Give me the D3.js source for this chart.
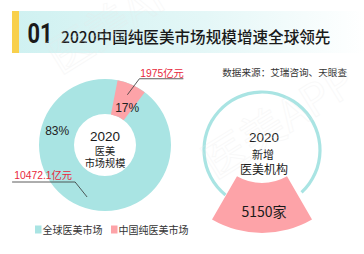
<!DOCTYPE html>
<html><head><meta charset="utf-8">
<script src="https://cdn.jsdelivr.net/npm/d3@7"></script>
<style>
html,body{margin:0;padding:0;background:#fff;}
svg{display:block;font-family:"Noto Sans CJK SC","Noto Sans",sans-serif;}
</style></head>
<body>
<script>
// ---- data ----
const titleNo = "01";
const titleText = "2020中国纯医美市场规模增速全球领先";
const sourceText = "数据来源：艾瑞咨询、天眼查";
const categories = ["全球医美市场", "中国纯医美市场"];
const shares = [83, 17];
const amounts = ["10472.1亿元", "1975亿元"];
const donutCenterLabel = ["2020", "医美", "市场规模"];
const circleLabel = ["2020", "新增", "医美机构"];
const newInstitutions = 5150;
const newInstitutionsUnit = "家";
const watermark = "医美APP";

const colors = ["#a9e4e3", "#fda3a8"];
const W = 364, H = 254;
const svg = d3.select("body").append("svg").attr("width", W).attr("height", H);
const defs = svg.append("defs");
const grad = defs.append("linearGradient").attr("id", "tg").attr("x1", "0").attr("x2", "1");
grad.append("stop").attr("offset", "0").attr("stop-color", "#cff1f1");
grad.append("stop").attr("offset", "0.55").attr("stop-color", "#e4f7f7");
grad.append("stop").attr("offset", "1").attr("stop-color", "#ffffff");

// title bar
svg.append("rect").attr("x", 12).attr("y", 11).attr("width", 352).attr("height", 42).attr("fill", "url(#tg)");
svg.append("rect").attr("x", 12).attr("y", 11).attr("width", 7).attr("height", 42).attr("fill", "#f8d04c");
svg.append("text").attr("transform", "translate(27.5,43) scale(0.78,1)").text(titleNo)
  .attr("font-family", "Roboto,'DejaVu Sans',sans-serif")
  .attr("font-weight", "bold").attr("font-size", 28).attr("fill", "#1a1a1a");
svg.append("text").attr("x", 61).attr("y", 42.5).text(titleText)
  .attr("font-size", 15.6).attr("font-weight", 500).attr("fill", "#1a1a1a");

// source
svg.append("text").attr("x", 347).attr("y", 76).attr("text-anchor", "end").text(sourceText)
  .attr("font-size", 9.6).attr("fill", "#333");

// ---- donut ----
const cx = 105, cy = 145, R = 66, r0 = 31;
const deg = Math.PI / 180;
const g = svg.append("g").attr("transform", `translate(${cx},${cy})`);
// angle scale for the highlighted wedge
const wedgeStart = 11 * deg;
const wedgeAngle = d3.scaleLinear().domain([0, 100]).range([0, 153 * deg]);
const arc = d3.arc().innerRadius(r0).outerRadius(R);
// whole market ring
g.append("path").attr("d", arc({startAngle: 0, endAngle: 2 * Math.PI})).attr("fill", colors[0]);
// China wedge
const pinkEnd = wedgeStart + wedgeAngle(shares[1]);
g.append("path").attr("d", arc({startAngle: wedgeStart, endAngle: pinkEnd})).attr("fill", colors[1]);

function pt(a, rad) { return [Math.sin(a) * rad, -Math.cos(a) * rad]; }
const lineColor = "#333";
// pink leader
const pinkMid = (wedgeStart + pinkEnd) / 2;
const p0 = pt(pinkMid, 55);
const p1 = [p0[0] + 12, p0[1] - 16];
const p2 = [p1[0] + 44, p1[1]];
g.append("path").attr("d", d3.line()([p0, p1, p2])).attr("fill", "none").attr("stroke", lineColor).attr("stroke-width", 0.8);
g.append("text").attr("x", p1[0] + 1).attr("y", p1[1] - 2).text(amounts[1])
  .attr("font-size", 10.3).attr("fill", "#e8283c").attr("font-family", "'Liberation Sans','Noto Sans CJK SC',sans-serif");
// teal leader
const q0 = pt(199 * deg, 55);
const q1 = [q0[0] - 12, q0[1] - 15];
const q2 = [q1[0] - 63, q1[1]];
g.append("path").attr("d", d3.line()([q0, q1, q2])).attr("fill", "none").attr("stroke", lineColor).attr("stroke-width", 0.8);
g.append("text").attr("x", q1[0] - 3).attr("y", q1[1] - 3).attr("text-anchor", "end").text(amounts[0])
  .attr("font-size", 10.3).attr("fill", "#e8283c").attr("font-family", "'Liberation Sans','Noto Sans CJK SC',sans-serif");
// percent labels
const l17 = pt(pinkMid + 4 * deg, 43);
g.append("text").attr("x", l17[0] + 2).attr("y", l17[1] + 5).attr("text-anchor", "middle").text(shares[1] + "%")
  .attr("font-size", 12).attr("fill", "#222").attr("font-family", "'Liberation Sans',sans-serif");
const l83 = pt(287 * deg, 50);
g.append("text").attr("x", l83[0]).attr("y", l83[1] + 5).attr("text-anchor", "middle").text(shares[0] + "%")
  .attr("font-size", 12).attr("fill", "#222").attr("font-family", "'Liberation Sans',sans-serif");
// center
g.append("text").attr("y", -4).attr("text-anchor", "middle").text(donutCenterLabel[0])
  .attr("font-size", 13.5).attr("fill", "#1a1a1a").attr("font-family", "'Liberation Sans',sans-serif");
g.append("text").attr("y", 9.5).attr("text-anchor", "middle").text(donutCenterLabel[1])
  .attr("font-size", 10.2).attr("fill", "#1a1a1a");
g.append("text").attr("y", 22).attr("text-anchor", "middle").text(donutCenterLabel[2])
  .attr("font-size", 10.2).attr("fill", "#1a1a1a");

// legend
const lg = svg.append("g");
const legX = [35, 111];
categories.forEach((c, i) => {
  lg.append("rect").attr("x", legX[i]).attr("y", 225.5).attr("width", 6.5).attr("height", 8).attr("fill", colors[i]);
  lg.append("text").attr("x", legX[i] + 7.5).attr("y", 233.5).text(c).attr("font-size", 10).attr("fill", "#333");
});

// ---- right circle ----
const ccx = 262, ccy = 150, CR = 58;
const cg = svg.append("g").attr("transform", `translate(${ccx},${ccy})`);
cg.append("path").attr("d", d3.arc().innerRadius(CR - 1.6).outerRadius(CR + 1.6)({startAngle: 219 * deg, endAngle: (137 + 360) * deg}))
  .attr("fill", colors[0]);
const sg = svg.append("g").attr("transform", `translate(${ccx},133)`);
sg.append("path").attr("d", d3.arc().innerRadius(50).outerRadius(100)({startAngle: 150 * deg, endAngle: 210 * deg}))
  .attr("fill", colors[1]);
sg.append("text").attr("x", 2).attr("y", 84).attr("text-anchor", "middle")
  .text(d3.format("d")(newInstitutions) + newInstitutionsUnit).attr("font-size", 14).attr("fill", "#1a1a1a");
cg.append("text").attr("x", 2).attr("y", -8).attr("text-anchor", "middle").text(circleLabel[0])
  .attr("font-size", 13.5).attr("fill", "#1a1a1a").attr("font-family", "'Liberation Sans',sans-serif");
cg.append("text").attr("x", 1).attr("y", 9).attr("text-anchor", "middle").text(circleLabel[1])
  .attr("font-size", 11).attr("fill", "#1a1a1a");
cg.append("text").attr("x", 2).attr("y", 23.5).attr("text-anchor", "middle").text(circleLabel[2])
  .attr("font-size", 12).attr("fill", "#1a1a1a");

// faint watermark
const wm = svg.append("g").attr("pointer-events", "none");
[[60, 75], [215, 180]].forEach(([x, y]) => {
  wm.append("text").attr("transform", `translate(${x},${y}) rotate(-32)`).text(watermark)
    .attr("font-size", 44).attr("fill", "none").attr("stroke", "#e9e9e9").attr("stroke-width", 0.8).attr("opacity", 0.3);
});
</script>
</body></html>
